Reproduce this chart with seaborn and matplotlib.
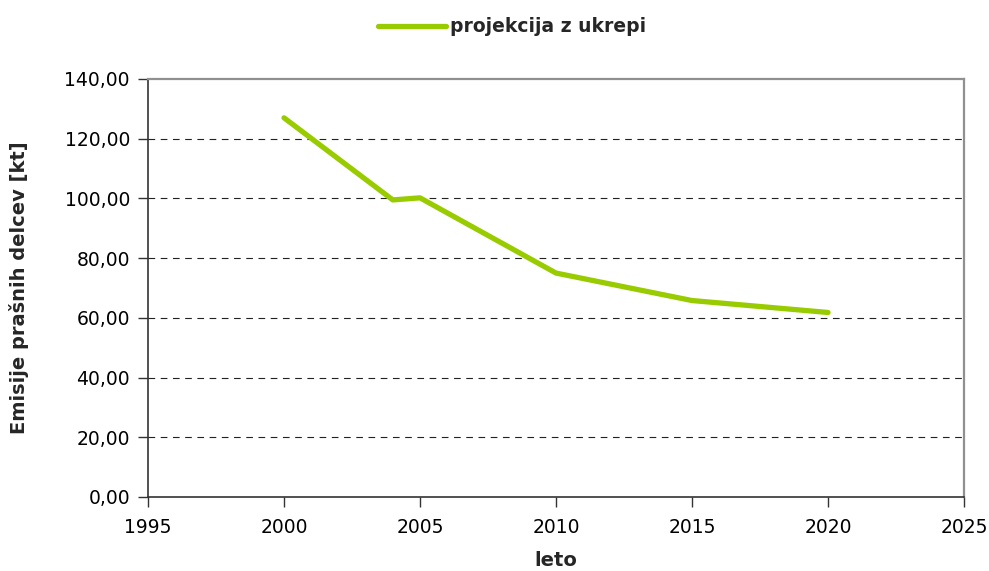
import numpy as np
import pandas as pd
import seaborn as sns
import matplotlib.pyplot as plt
from matplotlib.ticker import FuncFormatter

# data
years = [2000, 2004, 2005, 2010, 2015, 2020]
emissions = [127.0, 99.5, 100.2, 75.0, 65.8, 61.8]
series_name = 'projekcija z ukrepi'

df = pd.DataFrame({'leto': years, 'emisije': emissions, 'serija': series_name})

sns.set_style('white')
plt.rcParams['font.family'] = ['DejaVu Sans']

fig = plt.figure(figsize=(9.89, 5.71), dpi=100)
ax = fig.add_axes([148 / 989, 1 - 497 / 571, (964 - 148) / 989, (497 - 79) / 571])

sns.lineplot(data=df, x='leto', y='emisije', hue='serija', palette=['#99cc00'],
             linewidth=3.8, solid_capstyle='round', solid_joinstyle='round',
             legend=False, ax=ax, zorder=3)

ax.set_xlim(1995, 2025)
ax.set_ylim(0, 140)
ax.set_xticks(np.arange(1995, 2026, 5))
ax.set_yticks(np.arange(0, 141, 20))
ax.yaxis.set_major_formatter(FuncFormatter(lambda v, p: f'{v:.2f}'.replace('.', ',')))

for v in np.arange(20, 140, 20):
    ax.axhline(v, color='#222222', lw=0.8, ls=(0, (6, 5)), zorder=1)

for s in ['top', 'right']:
    ax.spines[s].set_color('#909090')
    ax.spines[s].set_linewidth(1.6)
for s in ['left', 'bottom']:
    ax.spines[s].set_color('#333333')
    ax.spines[s].set_linewidth(1.2)

ax.tick_params(axis='both', which='major', direction='out', length=7, width=1,
               color='#333333', labelsize=13.5, labelcolor='black',
               bottom=True, left=True)
ax.tick_params(axis='y', pad=6)
ax.tick_params(axis='x', pad=8)

ax.set_xlabel('leto', fontsize=14, fontweight='bold', va='center')
ax.set_ylabel('Emisije prašnih delcev [kt]', fontsize=14, fontweight='bold', va='center')
ax.xaxis.set_label_coords(0.5, (497 - 561) / 418)
ax.yaxis.set_label_coords((19 - 148) / 816, 0.5)

# legend at top centre
fig.legend(handles=[plt.Line2D([], [], color='#99cc00', lw=3.8, solid_capstyle='round')],
           labels=[series_name], loc='center', bbox_to_anchor=(512 / 989, 1 - 27 / 571),
           frameon=False, handlelength=3.6, handletextpad=0.2,
           prop={'weight': 'bold', 'size': 13.5})

fig.savefig('out.png', dpi=100)
